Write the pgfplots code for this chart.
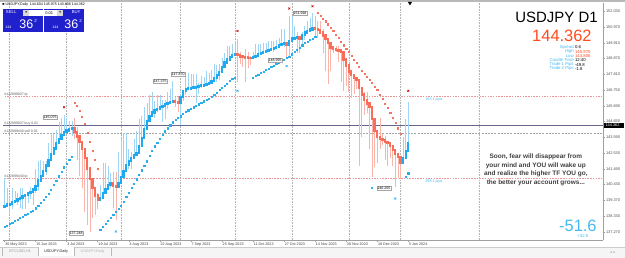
\documentclass[border=0pt]{standalone}
\usepackage{pgfplots}
\pgfplotsset{compat=1.18}
\usepackage{pgfplotstable}
\usepackage{fontspec}
\setmainfont{Liberation Sans}
\newfontfamily\dejavu{DejaVu Sans}
\definecolor{hablue}{RGB}{30,170,240}
\definecolor{hared}{RGB}{248,110,90}
\definecolor{wickblue}{RGB}{160,212,245}
\definecolor{wickred}{RGB}{250,180,170}
\definecolor{dotblue}{RGB}{40,175,235}
\definecolor{dotred}{RGB}{245,115,95}
\definecolor{panelblue}{RGB}{32,32,205}
\definecolor{infoblue}{RGB}{70,185,240}
\definecolor{orred}{RGB}{255,75,30}
\definecolor{tpred}{RGB}{235,150,150}

\pgfplotstableread{
i bot top lo hi
0 138.95 139.00 138.95 140.9
1 139.00 139.10 139.00 140.2
2 139.10 139.15 138.4 139.6
3 139.15 139.25 138.8 140.2
4 139.25 139.35 139.25 140.0
5 139.35 139.45 139.1 139.9
6 139.45 139.55 138.9 140.2
7 139.55 139.65 138.8 140.2
8 139.65 139.75 138.8 139.75
9 139.75 139.85 139.2 139.85
10 139.85 139.95 139.5 140.3
11 139.95 140.10 139.1 140.2
12 140.10 140.35 139.9 141.5
13 140.35 140.70 140.0 142.0
14 140.70 141.00 140.7 142.1
15 141.00 141.35 141.0 142.0
16 141.35 141.70 141.1 142.0
17 141.70 142.10 141.6 143.2
18 142.10 142.50 142.1 143.9
19 142.50 142.85 142.5 143.8
20 142.85 143.20 142.85 144.1
21 143.20 143.50 143.2 144.6
22 143.50 143.75 143.5 144.9
23 143.75 143.95 143.75 145.07
24 143.95 144.05 143.95 144.9
25 144.05 144.15 144.05 144.7
26 144.15 144.20 143.7 144.7
37 139.40 139.55 139.40 140.4
38 139.55 139.85 139.55 141.9
39 139.85 140.15 139.85 141.9
40 140.15 140.40 140.15 141.7
41 140.40 140.50 140.2 141.2
44 140.30 140.55 140.30 142.6
45 140.55 140.95 140.55 143.5
46 140.95 141.35 140.95 143.9
47 141.35 141.75 141.35 143.9
48 141.75 142.00 141.5 142.8
49 142.00 142.20 141.5 142.6
50 142.20 142.40 142.2 143.5
51 142.40 142.55 142.4 144.0
52 142.55 143.00 142.55 144.8
53 143.00 143.55 143.0 145.0
54 143.55 144.15 143.55 145.6
55 144.15 144.70 144.15 145.9
56 144.70 145.00 144.70 146.4
57 145.00 145.25 145.0 146.6
58 145.25 145.40 144.9 146.0
59 145.40 145.50 145.3 146.4
60 145.50 145.60 145.5 146.4
61 145.60 145.70 144.6 146.1
62 145.70 145.80 144.8 146.1
63 145.80 145.90 145.5 146.6
64 145.90 145.95 145.90 146.8
65 145.95 146.00 145.9 147.37
68 145.90 146.30 144.4 146.4
69 146.30 146.70 146.0 146.7
70 146.70 146.80 146.4 147.8
71 146.80 146.85 146.80 147.87
72 146.85 146.90 146.85 147.8
73 146.90 146.92 146.90 147.8
74 146.92 146.95 145.9 147.8
75 146.95 147.00 146.5 147.2
76 147.00 147.05 146.9 147.7
77 147.05 147.10 147.0 147.6
78 147.10 147.15 147.10 148.0
79 147.15 147.20 147.15 147.9
80 147.20 147.35 147.20 148.1
81 147.35 147.55 147.35 148.5
82 147.55 147.75 147.3 148.4
83 147.75 147.95 147.4 148.5
84 147.95 148.30 147.95 148.9
85 148.30 148.60 148.30 149.2
86 148.60 148.80 148.60 149.7
87 148.80 148.95 148.80 149.7
88 148.95 149.10 148.95 149.8
89 149.10 149.15 149.10 150.0
96 148.88 148.95 148.8 149.3
97 148.95 149.05 148.95 149.8
98 149.05 149.15 149.05 149.8
99 149.15 149.25 149.15 149.8
100 149.25 149.30 149.25 149.9
101 149.30 149.38 149.30 149.9
102 149.38 149.45 149.38 150.0
103 149.45 149.50 149.45 150.0
104 149.50 149.55 149.3 150.0
105 149.55 149.65 149.5 150.1
106 149.65 149.75 149.65 150.2
107 149.75 149.85 149.75 150.8
108 149.85 149.90 149.6 150.8
110 149.80 150.05 149.0 151.7
111 150.05 150.20 150.05 151.7
112 150.20 150.25 150.1 151.0
113 150.25 150.30 149.2 150.6
115 150.15 150.45 149.7 150.6
116 150.45 150.60 150.1 151.0
117 150.60 150.70 150.60 151.4
118 150.70 150.80 150.70 151.6
119 150.80 150.90 150.80 151.91
154 141.90 142.20 141.9 143.6
155 142.20 142.70 142.2 144.8
156 142.70 143.20 142.70 145.975
}\upbars

\pgfplotstableread{
i bot top lo hi
27 143.95 144.20 143.5 144.9
28 143.65 143.95 142.1 144.3
29 143.30 143.65 141.0 143.65
30 142.80 143.30 140.2 143.30
31 142.20 142.80 138.6 142.80
32 141.50 142.20 137.7 142.20
33 140.80 141.50 137.24 141.50
34 140.20 140.80 138.2 140.80
35 139.70 140.20 138.4 140.20
36 139.40 139.70 138.8 139.9
42 140.35 140.50 138.9 141.3
43 140.30 140.35 138.06 141.3
66 145.95 146.00 145.6 146.3
67 145.90 145.95 145.3 146.3
90 149.10 149.15 147.3 150.16
91 149.00 149.10 148.5 149.3
92 148.95 149.00 148.3 149.1
93 148.92 148.95 147.3 149.5
94 148.90 148.92 148.2 149.3
95 148.88 148.90 148.4 149.0
109 149.80 149.90 148.8 149.9
114 150.15 150.30 149.2 150.3
120 150.85 150.90 150.2 151.7
121 150.75 150.85 150.2 151.4
122 150.60 150.75 150.6 151.4
123 150.40 150.60 149.2 150.8
124 150.15 150.40 148.0 150.40
125 149.90 150.15 147.15 150.15
126 149.60 149.90 148.0 149.90
127 149.50 149.60 149.2 149.6
128 149.45 149.50 149.3 149.7
129 149.40 149.45 148.6 149.7
130 149.30 149.40 147.3 149.40
131 148.80 149.30 146.7 149.30
132 148.40 148.80 147.0 148.80
133 148.00 148.40 146.6 148.40
134 147.75 148.00 146.2 148.00
135 147.55 147.75 146.5 147.75
136 147.40 147.55 146.8 147.55
137 146.90 147.40 141.7 147.5
138 146.45 146.90 143.6 146.90
139 146.10 146.45 145.1 146.6
140 145.85 146.10 145.2 146.6
141 145.60 145.85 142.8 145.85
142 144.80 145.60 140.97 145.60
143 144.00 144.80 141.6 144.80
144 143.60 144.00 141.9 144.00
145 143.50 143.60 142.8 144.9
146 143.40 143.50 143.1 143.8
147 143.30 143.40 142.1 143.7
148 143.20 143.30 141.7 143.30
149 143.00 143.20 142.2 143.20
150 142.75 143.00 141.7 143.00
151 142.50 142.75 140.25 142.75
152 142.30 142.50 140.9 142.50
153 141.90 142.30 140.8 142.30
}\downbars

\pgfplotstableread{
i p
0 137.6
1 137.7
2 137.8
3 137.9
4 138.0
5 138.1
6 138.2
7 138.3
8 138.4
9 138.5
10 138.6
11 138.7
12 138.85
13 139.0
14 139.2
15 139.4
16 139.6
17 139.85
18 140.1
19 140.4
20 140.7
21 141.0
22 141.3
23 141.6
24 141.85
25 142.1
26 142.3
37 137.4
38 137.6
39 137.8
40 138.0
41 138.2
42 138.4
43 138.6
44 138.8
45 139.0
46 139.3
47 139.6
48 139.9
49 140.2
50 140.5
51 140.8
52 141.1
53 141.4
54 141.7
55 142.0
56 142.35
57 142.7
58 143.0
59 143.25
60 143.5
61 143.75
62 144.0
63 144.2
64 144.4
65 144.6
66 144.75
67 144.9
68 145.0
69 145.15
70 145.3
71 145.4
72 145.5
73 145.6
74 145.7
75 145.8
76 145.9
77 146.0
78 146.1
79 146.2
80 146.3
81 146.45
82 146.6
83 146.75
84 146.9
85 147.05
86 147.2
87 147.35
88 147.5
89 147.6
96 147.6
97 147.7
98 147.8
99 147.9
100 148.0
101 148.1
102 148.2
103 148.3
104 148.4
105 148.5
106 148.6
107 148.7
108 148.8
109 148.9
110 149.0
111 149.15
112 149.3
113 149.45
114 149.6
115 149.75
116 149.9
117 150.0
118 150.1
119 150.2
120 150.3
155 140.95
156 141.2
}\bluedots

\pgfplotstableread{
i p
27 145.9
28 145.7
29 145.4
30 145.0
31 144.5
32 143.9
33 143.3
34 142.7
35 142.1
36 141.5
121 151.9
122 151.75
123 151.55
124 151.35
125 151.15
126 150.9
127 150.7
128 150.45
129 150.25
130 150.0
131 149.75
132 149.5
133 149.3
134 149.05
135 148.8
136 148.55
137 148.3
138 148.05
139 147.85
140 147.65
141 147.45
142 147.25
143 147.0
144 146.75
145 146.45
146 146.15
147 145.85
148 145.55
149 145.25
150 144.9
151 144.55
152 144.2
153 143.85
}\reddots

\newcommand{\fs}[1]{\fontsize{#1}{#1}\selectfont}

\begin{document}
\begin{tikzpicture}[x=1bp,y=1bp]
\fill[white] (0,0) rectangle (625,258);
\begin{axis}[
  at={(3bp,18bp)}, anchor=south west, scale only axis,
  width=600bp, height=237bp,
  xmin=-0.5, xmax=231.16, ymin=136.74, ymax=152.57,
  axis x line*=bottom, axis y line*=right,
  axis line style={gray!75, line width=0.5bp},
  xtick={0,12,...,156},
  xticklabels={30 May 2023,15 Jun 2023,3 Jul 2023,19 Jul 2023,4 Aug 2023,22 Aug 2023,7 Sep 2023,25 Sep 2023,11 Oct 2023,27 Oct 2023,14 Nov 2023,30 Nov 2023,18 Dec 2023,5 Jan 2024},
  xticklabel style={anchor=north west, font=\fs{3.7}, text=black!75, inner sep=0.6bp},
  ytick={137.27,138.33,139.37,140.43,141.49,142.53,143.59,144.65,145.69,146.75,147.81,148.87,149.91,150.97,152.03},
  yticklabels={137.270,138.330,139.370,140.430,141.490,142.530,143.590,144.650,145.690,146.750,147.810,148.870,149.910,150.970,152.030},
  yticklabel style={font=\fs{3.9}, text=black!70, inner sep=1bp},
  tick style={gray!75, line width=0.4bp},
  major tick length=2bp, tick align=outside,
  extra x ticks={2,24,45,68,89,111,133,153,183.4},
  extra x tick labels={},
  extra x tick style={grid=major, major tick length=0bp},
  major grid style={gray!60, dash pattern=on 0.7bp off 0.9bp, line width=0.45bp},
]
% order lines
\addplot[tpred, dash pattern=on 1.5bp off 1.2bp, line width=0.5bp] coordinates {(-1,146.36) (240,146.36)};
\addplot[tpred, dash pattern=on 1.5bp off 1.2bp, line width=0.5bp] coordinates {(-1,140.88) (240,140.88)};
\addplot[gray!70, dash pattern=on 2bp off 1.2bp, line width=0.5bp] coordinates {(-1,143.88) (240,143.88)};
\addplot[black!75!blue!60, line width=0.6bp] coordinates {(-1,144.37) (240,144.37)};
% wicks
\addplot[draw=none, mark=none, forget plot, error bars/.cd, y dir=plus, y explicit, error mark=none,
  error bar style={draw=wickblue, line width=0.55bp}] table[x=i, y=lo, y error plus expr=\thisrow{hi}-\thisrow{lo}] {\upbars};
\addplot[draw=none, mark=none, forget plot, error bars/.cd, y dir=plus, y explicit, error mark=none,
  error bar style={draw=wickred, line width=0.55bp}] table[x=i, y=lo, y error plus expr=\thisrow{hi}-\thisrow{lo}] {\downbars};
% bodies
\addplot[draw=none, mark=none, forget plot, error bars/.cd, y dir=plus, y explicit, error mark=none,
  error bar style={draw=hablue, line width=2.3bp, line cap=rect}] table[x=i, y=bot, y error plus expr=\thisrow{top}-\thisrow{bot}] {\upbars};
\addplot[draw=none, mark=none, forget plot, error bars/.cd, y dir=plus, y explicit, error mark=none,
  error bar style={draw=hared, line width=2.3bp, line cap=rect}] table[x=i, y=bot, y error plus expr=\thisrow{top}-\thisrow{bot}] {\downbars};
% trailing dots
\addplot[dotblue, only marks, mark=square*, mark size=0.6bp, mark options={draw=none, fill=dotblue}] table[x=i, y=p] {\bluedots};
\addplot[dotred, only marks, mark=square*, mark size=0.55bp, mark options={draw=none, fill=dotred}] table[x=i, y=p] {\reddots};
% fractal marks
\addplot[red!80!black, only marks, mark=x, mark size=1.3bp, mark options={line width=0.6bp}] coordinates {(23,145.6) (90,150.7) (110,152.2) (119,152.35) (156,146.7)};
\addplot[hablue, only marks, mark=x, mark size=1.3bp, mark options={line width=0.6bp}] coordinates {(43,137.3) (90,146.7) (109,148.35) (142,140.2) (151,139.5)};
\end{axis}

% top strip
\fill[gray!55] (0,255.5) rectangle (625,258);
\node[anchor=west, font=\fs{3.6}, inner sep=0] at (2,253) {■ USDJPY,Daily\enspace 144.604 145.975 143.806 144.362};
% one click panel
\fill[panelblue] (3,226) rectangle (43,249);
\fill[panelblue] (44,226) rectangle (84,249);
\fill[white] (23,242) rectangle (63,248);
\fill[gray!30] (23,242) rectangle (29,248);
\fill[gray!30] (57,242) rectangle (63,248);
\node[font=\dejavu\fs{3.5}] at (26,245) {▾};
\node[font=\dejavu\fs{3.5}] at (60,245) {▾};
\node[font=\fs{4}, anchor=east] at (56.5,245) {0.01};
\node[font=\fs{4.3}, text=white] at (11,245.5) {SELL};
\node[font=\fs{4.3}, text=white] at (76,245.5) {BUY};
\node[font=\fs{3.6}, text=white, anchor=base west, inner sep=0] at (5,229.5) {144};
\node[font=\fs{12.5}, text=white, anchor=base west, inner sep=0] at (19,229.5) {36};
\node[font=\fs{4.5}, text=white, anchor=base west, inner sep=0] at (34,235) {2};
\node[font=\fs{3.6}, text=white, anchor=base west, inner sep=0] at (52,229.5) {144};
\node[font=\fs{12.5}, text=white, anchor=base west, inner sep=0] at (64,229.5) {36};
\node[font=\fs{4.5}, text=white, anchor=base west, inner sep=0] at (79,235) {2};

% order labels
\node[anchor=west, font=\fs{3.5}, text=black!65, inner sep=0] at (4,163) {\#122899037 tp};
\node[anchor=west, font=\fs{3.5}, text=black!65, inner sep=0] at (4,134) {\#122899037 buy 0.01};
\node[anchor=west, font=\fs{3.5}, text=black!65, inner sep=0] at (4,126.5) {\#122899440 sell 0.01};
\node[anchor=west, font=\fs{3.5}, text=black!65, inner sep=0] at (4,81) {\#122899440 tp};
\node[font=\fs{3.7}, text=infoblue, inner sep=0] at (434,158) {163.1 pips};
\node[font=\fs{3.7}, text=infoblue, inner sep=0] at (434,76) {298.1 pips};

% price boxes
\tikzset{lbl/.style={draw=gray!70, fill=white, inner sep=0.6bp, font=\fs{3.6}}}
\node[lbl] at (50,141) {145.075};
\node[lbl] at (160,177) {147.375};
\node[lbl] at (178,184) {147.870};
\node[lbl] at (275,198) {148.995};
\node[lbl] at (300,245) {151.918};
\node[lbl] at (76,25) {137.248};
\node[lbl] at (384,70) {140.205};

% right side scale current price
\fill[black] (604,130.2) rectangle (624,134.6);
\node[font=\fs{3.9}, text=white, anchor=west, inner sep=0] at (605.5,132.4) {144.362};
% top triangle
\fill[black] (408,256) -- (412,256) -- (410,252.5) -- cycle;

% info block
\node[anchor=east, font=\fs{15}, inner sep=0] at (598,240.5) {USDJPY D1};
\node[anchor=east, font=\fs{16.5}, text=orred, inner sep=0] at (592,221.8) {144.362};
\begin{scope}[every node/.style={font=\fs{4.3}, inner sep=0}]
\node[anchor=east, text=infoblue] at (574,210.6) {Spread};
\node[anchor=west] at (575,210.6) {0.6};
\node[anchor=east, text=infoblue] at (574,206.3) {High};
\node[anchor=west, text=orred] at (575,206.3) {145.975};
\node[anchor=east, text=infoblue] at (574,202) {Low};
\node[anchor=west, text=orred] at (575,202) {143.806};
\node[anchor=east, text=infoblue] at (574,197.7) {Candle Time};
\node[anchor=west] at (575,197.7) {12:40};
\node[anchor=east, text=infoblue] at (574,193.4) {Trade 1 Pips};
\node[anchor=west] at (575,193.4) {-49.8};
\node[anchor=east, text=infoblue] at (574,189.1) {Trade 2 Pips};
\node[anchor=west] at (575,189.1) {-1.8};
\end{scope}

% message
\begin{scope}[every node/.style={font=\bfseries\fs{6.5}, text=black!75, inner sep=0}]
\node at (536,101) {Soon, fear will disappear from};
\node at (536,92.3) {your mind and YOU will wake up};
\node at (536,83.6) {and realize the higher TF YOU go,};
\node at (536,74.9) {the better your account grows...};
\end{scope}
\node[anchor=east, font=\fs{16.5}, text=infoblue, inner sep=0] at (597,32) {-51.6};
\node[font=\fs{4.4}, text=infoblue, inner sep=0] at (583,21.5) {+32.5};

% tabs
\fill[gray!8] (0,0) rectangle (625,10.5);
\draw[gray!40, line width=0.4bp] (0,10.5) -- (625,10.5);
\fill[white] (38,1.5) rectangle (74,10.5);
\draw[gray!55, line width=0.4bp] (38,1.5) -- (38,10.5) (74,1.5) -- (74,10.5) (111,2) -- (111,9.5) (2,2) -- (2,9.5);
\node[font=\fs{3.8}, text=black!40] at (20,6) {BTCUSD,H1};
\node[font=\fs{3.8}, text=black!85] at (56,6) {USDJPY,Daily};
\node[font=\fs{3.8}, text=black!30] at (92.5,6) {USDJPY,Daily};
\node[font=\dejavu\fs{3.5}, text=black!40] at (613,5) {◂\enspace▸};
\end{tikzpicture}
\end{document}
